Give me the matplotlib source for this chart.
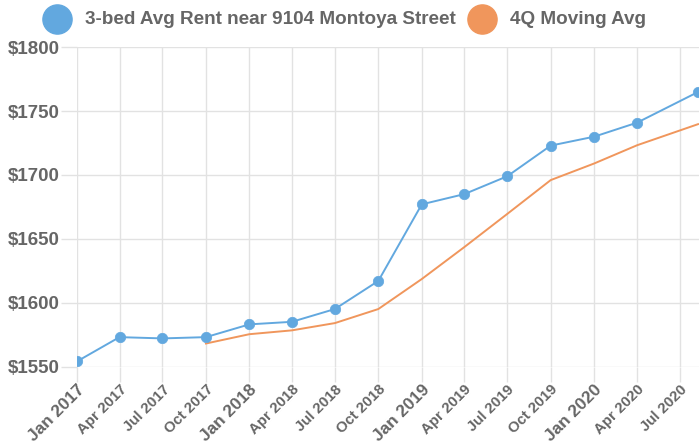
import matplotlib
matplotlib.use("Agg")
import matplotlib.pyplot as plt
from matplotlib.lines import Line2D
import pandas as pd

# ---- data ----
rent_dates = ["2017-01-01", "2017-04-01", "2017-07-01", "2017-10-01",
              "2018-01-01", "2018-04-01", "2018-07-01", "2018-10-01",
              "2019-01-01", "2019-04-01", "2019-07-01", "2019-10-01",
              "2020-01-01", "2020-04-01", "2020-08-08"]
rent_values = [1554, 1573, 1572, 1573, 1583, 1585, 1595, 1617,
               1677, 1685, 1699, 1723, 1730, 1741, 1765]
ma_dates = rent_dates[3:]
ma_values = [1568, 1575.3, 1578.3, 1584, 1595, 1618.5, 1643.5,
             1669.5, 1696, 1709, 1723.3, 1739.8]
tick_dates = ["2017-01-01", "2017-04-01", "2017-07-01", "2017-10-01",
              "2018-01-01", "2018-04-01", "2018-07-01", "2018-10-01",
              "2019-01-01", "2019-04-01", "2019-07-01", "2019-10-01",
              "2020-01-01", "2020-04-01", "2020-07-01"]
tick_labels = ["Jan 2017", "Apr 2017", "Jul 2017", "Oct 2017",
               "Jan 2018", "Apr 2018", "Jul 2018", "Oct 2018",
               "Jan 2019", "Apr 2019", "Jul 2019", "Oct 2019",
               "Jan 2020", "Apr 2020", "Jul 2020"]
y_ticks = [1550, 1600, 1650, 1700, 1750, 1800]
series_names = ["3-bed Avg Rent near 9104 Montoya Street", "4Q Moving Avg"]

BLUE = "#62a8df"
ORANGE = "#f0965c"
GRID = "#e2e2e2"
TEXT = "#666666"

plt.rcParams['font.family'] = ['Liberation Sans', 'DejaVu Sans']

fig = plt.figure(figsize=(6.99, 4.48), dpi=100)
W, H = 699, 448
ax = fig.add_axes([77 / W, 1 - 366.5 / H, 1 - 77 / W, (366.5 - 47.3) / H])

rd = pd.to_datetime(rent_dates)
md = pd.to_datetime(ma_dates)
td = pd.to_datetime(tick_dates)

ax.plot(md, ma_values, color=ORANGE, lw=1.4, zorder=3, clip_on=False)
ax.plot(rd, rent_values, color=BLUE, lw=1.4, marker='o', markersize=7.5,
        markerfacecolor=BLUE, markeredgecolor=BLUE, markeredgewidth=0.5,
        zorder=4)

ax.set_xlim(pd.Timestamp("2017-01-01"), pd.Timestamp("2020-08-10"))
ax.set_ylim(1550, 1800)

ax.set_yticks(y_ticks)
ax.set_yticklabels([f"${v}" for v in y_ticks])
ax.set_xticks(td)
ax.set_xticklabels(tick_labels)

for s in ax.spines.values():
    s.set_visible(False)
ax.grid(True, color=GRID, lw=1.0)
ax.set_axisbelow(True)
ax.tick_params(axis='y', length=11.5, width=1.0, color=GRID, pad=1,
               labelsize=13.5, labelcolor=TEXT)
ax.tick_params(axis='x', length=11, width=1.0, color=GRID, pad=0.5,
               labelcolor=TEXT)
for lbl in ax.get_yticklabels():
    lbl.set_fontweight('bold')
for lbl, txt in zip(ax.get_xticklabels(), tick_labels):
    lbl.set_rotation(45)
    lbl.set_ha('right')
    lbl.set_va('top')
    lbl.set_rotation_mode('anchor')
    lbl.set_fontweight('bold')
    lbl.set_fontsize(12.4 if txt.startswith("Jan") else 10.8)

# legend
legend_items = [(57, 85, BLUE, series_names[0]), (482, 510, ORANGE, series_names[1])]
for cx, tx, col, name in legend_items:
    fig.add_artist(Line2D([cx / W], [1 - 19 / H], marker='o', markersize=21,
                          color=col, markeredgecolor=col, linestyle='none',
                          transform=fig.transFigure))
    fig.text(tx / W, 1 - 19 / H, name, fontsize=13.6, fontweight='bold',
             color=TEXT, va='center', ha='left')

fig.savefig("out.png", dpi=100)
